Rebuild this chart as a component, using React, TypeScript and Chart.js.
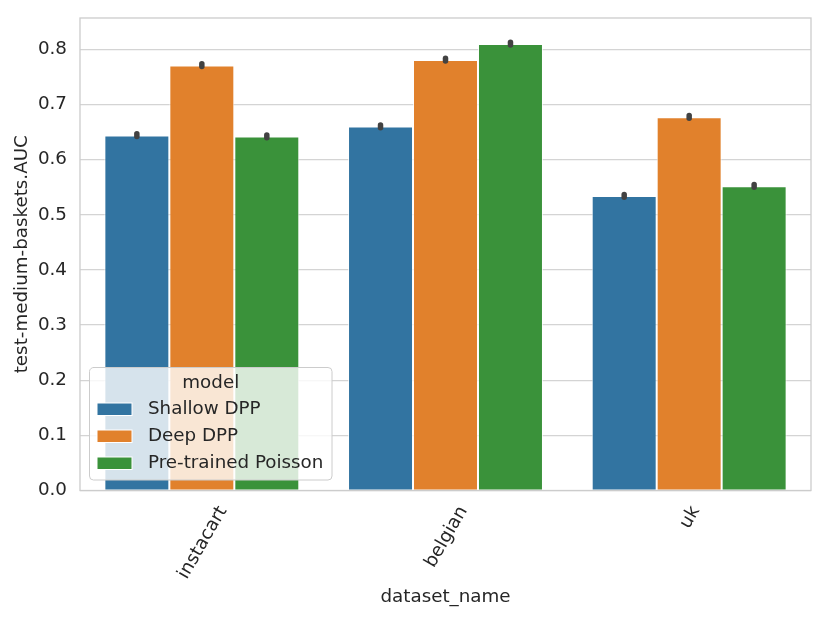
import React, { useEffect, useRef } from 'react';
import { Chart, registerables } from 'chart.js';

Chart.register(...registerables);

const categories = ['instacart', 'belgian', 'uk'];
const models = ['Shallow DPP', 'Deep DPP', 'Pre-trained Poisson'];
const colors = ['#3274a1', '#e1812c', '#3a923a'];

const shallowDpp = [0.644, 0.66, 0.534];
const deepDpp = [0.771, 0.781, 0.677];
const pretrainedPoisson = [0.642, 0.81, 0.552];

// confidence intervals (tiny, drawn as dots on the bar tops)
const shallowLo = [0.642, 0.658, 0.532];
const shallowHi = [0.647, 0.663, 0.537];
const deepLo = [0.769, 0.779, 0.675];
const deepHi = [0.774, 0.784, 0.68];
const poissonLo = [0.64, 0.808, 0.55];
const poissonHi = [0.645, 0.813, 0.555];

const yTicks = [0, 0.1, 0.2, 0.3, 0.4, 0.5, 0.6, 0.7, 0.8];

const FONT = '"DejaVu Sans", sans-serif';
const FONT_SIZE = 18.3;
const TEXT = '#262626';
const EDGE = '#cccccc';

const ciLo = [shallowLo, deepLo, poissonLo];
const ciHi = [shallowHi, deepHi, poissonHi];

const decorPlugin = {
  id: 'decor',
  afterDatasetsDraw(chart: any) {
    const { ctx, chartArea, scales } = chart;
    const x = scales.x;
    const y = scales.y;
    ctx.save();

    // frame
    ctx.strokeStyle = EDGE;
    ctx.lineWidth = 1.3;
    ctx.strokeRect(chartArea.left, chartArea.top, chartArea.right - chartArea.left, chartArea.bottom - chartArea.top);

    // error bars
    ctx.strokeStyle = '#424242';
    ctx.lineWidth = 5.5;
    ctx.lineCap = 'round';
    chart.data.datasets.forEach((ds: any, di: number) => {
      const meta = chart.getDatasetMeta(di);
      meta.data.forEach((bar: any, i: number) => {
        ctx.beginPath();
        ctx.moveTo(bar.x, y.getPixelForValue(ciLo[di][i]));
        ctx.lineTo(bar.x, y.getPixelForValue(ciHi[di][i]));
        ctx.stroke();
      });
    });

    // x tick labels, rotated 60deg, bbox centred on the tick like matplotlib
    ctx.font = `${FONT_SIZE}px ${FONT}`;
    ctx.fillStyle = TEXT;
    ctx.textAlign = 'center';
    ctx.textBaseline = 'middle';
    const ang = (60 * Math.PI) / 180;
    const h = FONT_SIZE * 1.16;
    categories.forEach((c, i) => {
      const px = x.getPixelForValue(i);
      const w = ctx.measureText(c).width;
      const bh = w * Math.sin(ang) + h * Math.cos(ang);
      const top = chartArea.bottom + 12;
      ctx.save();
      ctx.translate(px + 1, top + bh / 2);
      ctx.rotate(-ang);
      ctx.fillText(c, 0, 0);
      ctx.restore();
    });

    // legend
    const lx = 89.5;
    const ly = 367.5;
    const lw = 242.5;
    const lh = 112.5;
    ctx.beginPath();
    ctx.roundRect(lx, ly, lw, lh, 4);
    ctx.fillStyle = 'rgba(255,255,255,0.8)';
    ctx.fill();
    ctx.strokeStyle = EDGE;
    ctx.lineWidth = 1;
    ctx.stroke();

    ctx.fillStyle = TEXT;
    ctx.textAlign = 'center';
    ctx.fillText('model', lx + lw / 2, 383);
    ctx.textAlign = 'left';
    models.forEach((m, i) => {
      const cy = 409 + i * 27;
      ctx.fillStyle = colors[i];
      ctx.fillRect(97, cy - 6, 35, 12.5);
      ctx.strokeStyle = '#ffffff';
      ctx.lineWidth = 1;
      ctx.strokeRect(97, cy - 6, 35, 12.5);
      ctx.fillStyle = TEXT;
      ctx.fillText(m, 148, cy + 0.5);
    });

    ctx.restore();
  },
};

const App: React.FC = () => {
  const chartRef = useRef<HTMLCanvasElement>(null);
  const chartInstance = useRef<Chart | null>(null);

  useEffect(() => {
    if (chartInstance.current) {
      chartInstance.current.destroy();
    }
    if (chartRef.current) {
      const ctx = chartRef.current.getContext('2d');
      if (ctx) {
        const series = [shallowDpp, deepDpp, pretrainedPoisson];
        chartInstance.current = new Chart(ctx, {
          type: 'bar',
          data: {
            labels: categories,
            datasets: series.map((d, i) => ({
              label: models[i],
              data: d,
              backgroundColor: colors[i],
              borderColor: 'rgba(255,255,255,0.75)',
              borderWidth: 1,
              borderSkipped: 'bottom',
              categoryPercentage: 0.8,
              barPercentage: 1.0,
            })),
          },
          options: {
            responsive: true,
            maintainAspectRatio: false,
            animation: false,
            layout: { padding: { top: 18, right: 20, left: 0, bottom: 0 } },
            plugins: {
              legend: { display: false },
              tooltip: { enabled: false },
            },
            scales: {
              x: {
                grid: { display: false },
                border: { display: false },
                ticks: { display: false },
                title: {
                  display: true,
                  text: 'dataset_name',
                  color: TEXT,
                  font: { family: FONT, size: FONT_SIZE },
                  padding: { top: 0, bottom: 12 },
                },
                afterFit: (scale: any) => {
                  scale.height = 129.5;
                  scale.paddingLeft = 0;
                  scale.paddingRight = 0;
                },
              },
              y: {
                min: 0,
                max: 0.857,
                grid: { color: '#d4d4d4', lineWidth: 1.3, drawTicks: false },
                border: { display: false },
                afterBuildTicks: (scale: any) => {
                  scale.ticks = yTicks.map((v) => ({ value: v }));
                },
                ticks: {
                  padding: 13,
                  color: TEXT,
                  font: { family: FONT, size: FONT_SIZE },
                  callback: (v: any) => Number(v).toFixed(1),
                },
                title: {
                  display: true,
                  text: 'test-medium-baskets.AUC',
                  color: TEXT,
                  font: { family: FONT, size: FONT_SIZE },
                  padding: { top: 11, bottom: 0 },
                },
                afterFit: (scale: any) => {
                  scale.width = 80;
                  scale.paddingTop = 0;
                  scale.paddingBottom = 0;
                },
              },
            },
          },
          plugins: [decorPlugin],
        });
      }
    }
    return () => {
      if (chartInstance.current) {
        chartInstance.current.destroy();
        chartInstance.current = null;
      }
    };
  }, []);

  return (
    <div style={{ position: 'absolute', left: 0, top: 0, width: 831, height: 620, background: '#fff' }}>
      <canvas ref={chartRef}></canvas>
    </div>
  );
};

export default App;
